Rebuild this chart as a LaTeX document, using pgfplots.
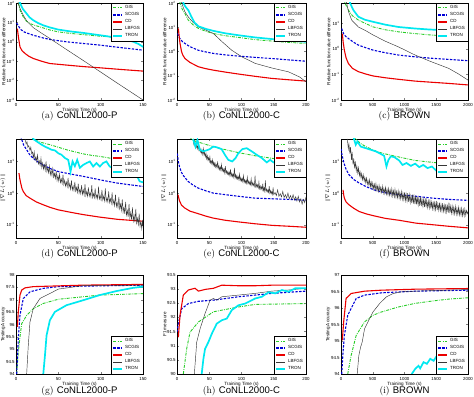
\documentclass[border=0pt]{standalone}
\usepackage{fontspec}
\usepackage{pgfplots}
\pgfplotsset{compat=1.18}
\newfontfamily\hv{Liberation Sans}
\definecolor{gisc}{RGB}{40,205,40}
\definecolor{scgc}{RGB}{0,0,215}
\definecolor{cdc}{RGB}{235,0,0}
\definecolor{lbc}{RGB}{55,55,55}
\definecolor{trc}{RGB}{0,232,240}
\newcommand{\tp}[1]{10\textsuperscript{#1}}
\pgfplotsset{
 base/.style={scale only axis, anchor=south west, clip=true,
   font=\hv\fontsize{4.6}{5.5}\selectfont,
   tick label style={font=\hv\fontsize{4.4}{5}\selectfont},
   yticklabel style={inner xsep=1.2pt},
   /pgf/number format/assume math mode=true,
   /pgf/number format/1000 sep={},
   scaled ticks=false, tick align=inside, major tick length=2bp,
   axis line style={line width=0.4pt},
   xlabel={Training Time (s)},
   xlabel style={yshift=5.5bp},
   ylabel style={at={(axis description cs:0,0.5)}, anchor=south, yshift=10.5bp, inner sep=0pt},
   legend cell align=left,
   legend style={font=\hv\fontsize{4.5}{5}\selectfont, at={(1,1)}, anchor=north east,
     inner xsep=1pt, inner ysep=0.5pt, row sep=-1.6pt, draw=black, line width=0.3pt},
   legend image code/.code={\draw[##1] (0bp,0bp) -- (9bp,0bp);},
 },
 lr1/.style={ylabel={Relative function value difference}},
 lr2/.style={ylabel={$\|\nabla L(w)\|$}, ymin=-1.42, ymax=1.71, ytick={-1,0,1},
   yticklabels={\tp{-1},\tp{0},\tp{1}}},
 gis/.style={color=gisc, line width=0.9pt, dash pattern=on 3pt off 1.2pt on 0.8pt off 1.2pt},
 scg/.style={color=scgc, line width=1.1pt, dash pattern=on 2.4pt off 1.4pt},
 cd/.style={color=cdc, line width=1.1pt},
 lbf/.style={color=lbc, line width=0.45pt},
 tron/.style={color=trc, line width=1.7pt},
}
\begin{document}
\begin{tikzpicture}
\useasboundingbox (0,0) rectangle (474bp,397bp);
% ---------------- (a)
\begin{axis}[base, lr1, at={(16bp,297bp)}, width=127bp, height=97bp,
  xmin=0, xmax=150, xtick={0,50,100,150}, ymin=-3, ymax=2, ytick={-3,-2,-1,0,1,2},
  yticklabels={\tp{-3},\tp{-2},\tp{-1},\tp{0},\tp{1},\tp{2}}]
\addplot[gis] coordinates {(1.5,2.3)(2.7,2.0)(5,1.6)(8.6,1.28)(12,1.08)(16.5,0.94)(22,0.85)(28.3,0.77)(38,0.63)(49.9,0.51)(65,0.43)(79.3,0.37)(99,0.29)(120,0.23)(150,0.17)};
\addplot[scg] coordinates {(0.8,0.97)(3,0.8)(6,0.62)(10,0.5)(15,0.42)(20.4,0.34)(30,0.22)(40,0.12)(59.7,0.0)(80,-0.09)(98.9,-0.17)(120,-0.28)(150,-0.43)};
\addplot[cd] coordinates {(1.6,0.68)(3,0.2)(4.7,-0.26)(7,-0.45)(10.6,-0.6)(15,-0.74)(20.4,-0.86)(30,-1.0)(40,-1.12)(59.7,-1.2)(80,-1.28)(99,-1.34)(125,-1.43)(150,-1.51)};
\addplot[lbf] coordinates {(1.5,2.3)(2.7,2.0)(5,1.7)(8.6,1.37)(13,1.05)(20.4,0.73)(30,0.45)(40,0.17)(59.7,-0.40)(80,-0.98)(99,-1.53)(120,-2.14)(150,-3.0)};
\addplot[tron] coordinates {(3.5,2.3)(4.7,2.0)(8,1.7)(12.6,1.45)(16,1.26)(20.4,1.11)(26,0.97)(32.2,0.85)(40,0.74)(49.9,0.63)(65,0.53)(79.3,0.46)(99,0.34)(110,0.27)(118.6,0.2)(130,0.1)(138.2,0.01)(145,-0.12)(150,-0.26)};
\legend{GIS,SCGIS,CD,LBFGS,TRON}
\end{axis}
% ---------------- (b)
\begin{axis}[base, lr1, at={(177bp,297bp)}, width=129bp, height=97bp,
  xmin=0, xmax=200, xtick={0,50,100,150,200}, ymin=-2, ymax=2, ytick={-2,-1,0,1,2},
  yticklabels={\tp{-2},\tp{-1},\tp{0},\tp{1},\tp{2}}]
\addplot[gis] coordinates {(3,2.3)(4.7,2.0)(8,1.75)(12.4,1.56)(17.6,1.29)(25,1.1)(33.2,0.95)(45,0.83)(56.5,0.74)(75,0.65)(95.3,0.58)(121.2,0.49)(160,0.4)(200,0.33)};
\addplot[scg] coordinates {(1,0.74)(4,0.55)(8,0.42)(12.4,0.33)(20,0.2)(33.2,0.05)(45,-0.02)(56.5,-0.08)(75,-0.14)(95.3,-0.19)(120,-0.24)(147,-0.29)(175,-0.35)(200,-0.4)};
\addplot[cd] coordinates {(2.1,0.95)(3.5,0.6)(4.7,0.33)(7,0.0)(9,-0.15)(12.4,-0.29)(20,-0.45)(33.2,-0.63)(45,-0.71)(56.5,-0.77)(75,-0.85)(95.3,-0.93)(120,-1.02)(147,-1.11)(175,-1.17)(200,-1.22)};
\addplot[lbf] coordinates {(5.5,2.3)(7.3,2.0)(12,1.65)(17.6,1.42)(25,1.2)(33.2,1.01)(45,0.88)(56.5,0.74)(70,0.4)(85,0.05)(100.5,-0.22)(121.2,-0.49)(147,-0.68)(173,-0.84)(190,-1.05)(200,-1.25)};
\addplot[tron] coordinates {(8,2.3)(9.8,2.0)(13,1.85)(17.6,1.7)(22,1.45)(27,1.2)(33.2,1.04)(45,0.93)(56.5,0.85)(75,0.75)(95.3,0.67)(121.2,0.58)(160,0.48)(200,0.4)};
\legend{GIS,SCGIS,CD,LBFGS,TRON}
\end{axis}
% ---------------- (c)
\begin{axis}[base, lr1, at={(341bp,297bp)}, width=127bp, height=97bp,
  xmin=0, xmax=2000, xtick={0,500,1000,1500,2000}, ymin=-2, ymax=1.8, ytick={-2,-1,0,1},
  yticklabels={\tp{-2},\tp{-1},\tp{0},\tp{1}}]
\addplot[gis] coordinates {(40,2.0)(63,1.8)(116,1.52)(180,1.3)(274,1.13)(400,0.98)(510,0.86)(700,0.75)(905,0.67)(1168,0.6)(1400,0.55)(1695,0.5)(2000,0.41)};
\addplot[scg] coordinates {(11,0.8)(40,0.6)(70,0.5)(116,0.41)(200,0.26)(274,0.15)(400,0.04)(510,-0.05)(700,-0.15)(905,-0.24)(1168,-0.31)(1400,-0.36)(1695,-0.41)(2000,-0.46)};
\addplot[cd] coordinates {(21,0.6)(35,0.25)(53,-0.05)(80,-0.35)(116,-0.57)(180,-0.76)(274,-0.89)(400,-0.99)(510,-1.06)(700,-1.13)(905,-1.19)(1168,-1.26)(1400,-1.3)(1695,-1.35)(2000,-1.41)};
\addplot[lbf] coordinates {(70,2.0)(89,1.8)(120,1.45)(168,1.13)(274,0.86)(400,0.7)(510,0.54)(700,0.3)(905,0.08)(1168,-0.24)(1400,-0.48)(1695,-0.76)(1850,-0.98)(2000,-1.22)};
\addplot[tron] coordinates {(130,2.0)(142,1.8)(195,1.52)(274,1.26)(380,1.14)(510,1.06)(700,0.95)(905,0.86)(1168,0.8)(1400,0.76)(1695,0.73)(2000,0.71)};
\legend{GIS,SCGIS,CD,LBFGS,TRON}
\end{axis}
% ---------------- (d)
\begin{axis}[base, lr2, at={(16bp,159bp)}, width=127bp, height=99bp,
  xmin=0, xmax=150, xtick={0,50,100,150}]
\addplot[gis] coordinates {(18,1.8)(20.4,1.7)(30,1.6)(40,1.53)(50,1.45)(59.7,1.37)(70,1.3)(79.3,1.24)(90,1.19)(99,1.16)(118.6,1.07)(135,1.03)(150,1.0)};
\addplot[scg] coordinates {(5.5,1.8)(6.7,1.7)(9,1.52)(12.6,1.37)(16,1.22)(20.4,1.1)(26,0.98)(32.2,0.89)(40,0.78)(49.9,0.68)(65,0.6)(79.3,0.53)(99,0.42)(118.6,0.32)(135,0.26)(150,0.21)};
\addplot[cd] coordinates {(3.5,0.63)(4.5,0.45)(5.5,0.32)(7,0.15)(8.6,0.05)(12,-0.08)(16.5,-0.16)(24,-0.28)(32.2,-0.37)(40,-0.45)(49.9,-0.53)(65,-0.61)(79.3,-0.68)(99,-0.76)(120,-0.83)(150,-0.89)};
\addplot[lbf] coordinates {(10.6,1.71)(12,1.55)(13,1.62)(14,1.45)(15,1.50)(16.5,1.35)(17.5,1.45)(18.5,1.25)(19.5,1.30)(20.5,1.12)(21.5,1.30)(22.5,1.05)(23.5,1.15)(24.5,1.00)(25.5,1.20)(26.5,0.92)(27.5,1.02)(28.5,0.88)(29.5,1.10)(30.5,0.80)(31.5,0.95)(32.5,0.76)(33.5,0.90)(34.5,0.72)(35.5,1.00)(36.5,0.68)(37.5,0.80)(38.5,0.64)(39.5,0.85)(40.5,0.58)(41.5,0.72)(42.5,0.55)(43.5,0.78)(44.5,0.50)(45.5,0.62)(46.5,0.46)(47.5,0.70)(48.5,0.40)(49.5,0.55)(50.5,0.38)(51.5,0.60)(52.5,0.33)(53.5,0.45)(54.5,0.30)(55.5,0.58)(56.5,0.27)(57.5,0.40)(58.5,0.22)(59.5,0.35)(60.5,0.20)(61.5,0.48)(62.5,0.18)(63.5,0.30)(64.5,0.12)(65.5,0.40)(66.5,0.10)(67.5,0.22)(68.5,0.08)(69.5,0.35)(70.5,0.06)(71.5,0.18)(72.5,0.02)(73.5,0.30)(74.5,0.00)(75.5,0.12)(76.5,-0.02)(77.5,0.25)(78.5,-0.04)(79.5,0.10)(80.5,-0.06)(81.5,0.28)(82.5,-0.08)(83.5,0.05)(84.5,-0.10)(85.5,0.18)(86.5,-0.10)(87.5,0.02)(88.5,-0.12)(89.5,0.25)(90.5,-0.14)(91.5,-0.02)(92.5,-0.15)(93.5,0.15)(94.5,-0.16)(95.5,-0.05)(96.5,-0.18)(97.5,0.20)(98.5,-0.18)(99.5,-0.08)(100.5,-0.22)(101.5,0.10)(102.5,-0.22)(103.5,-0.10)(104.5,-0.25)(105.5,0.15)(106.5,-0.26)(107.5,-0.15)(108.5,-0.28)(109.5,0.05)(110.5,-0.30)(111.5,-0.18)(112.5,-0.33)(113.5,0.02)(114.5,-0.35)(115.5,-0.22)(116.5,-0.40)(117.5,-0.05)(118.5,-0.42)(119.5,-0.30)(120.5,-0.46)(121.5,-0.12)(122.5,-0.50)(123.5,-0.35)(124.5,-0.55)(125.5,-0.20)(126.5,-0.60)(127.5,-0.45)(128.5,-0.66)(129.5,-0.28)(130.5,-0.70)(131.5,-0.55)(132.5,-0.75)(133.5,-0.35)(134.5,-0.78)(135.5,-0.62)(136.5,-0.84)(137.5,-0.45)(138.5,-0.88)(139.5,-0.70)(140.5,-0.92)(141.5,-0.50)(142.5,-0.95)(143.5,-0.80)(144.5,-1.00)(145.5,-0.65)(146.5,-1.05)(147.5,-0.90)(148.5,-1.12)(149.5,-0.85)(150,-1.05)};
\addplot[tron] coordinates {(19,1.85)(20.4,1.71)(26.3,1.6)(30.2,1.53)(34.2,1.47)(38.1,1.42)(42.0,1.37)(45.9,1.35)(49.9,1.26)(53.8,1.21)(57.7,1.11)(61.7,1.05)(64.4,0.68)(66.8,1.0)(69.5,0.85)(72.3,1.05)(75.4,0.8)(79.3,0.89)(83.3,0.95)(87.2,1.0)(91.1,0.84)(95.0,0.95)(99.0,0.84)(102.9,0.95)(106.8,1.0)(110.7,0.84)(114.7,0.79)(118.6,0.89)(122.5,0.84)(126.4,0.76)(130.4,0.82)(134.3,0.74)(138.2,0.68)(142.2,0.58)(146.1,0.37)(150,0.34)};
\legend{GIS,SCGIS,CD,LBFGS,TRON}
\end{axis}
% ---------------- (e)
\begin{axis}[base, lr2, at={(177bp,159bp)}, width=129bp, height=99bp,
  xmin=0, xmax=200, xtick={0,50,100,150,200}]
\addplot[gis] coordinates {(20,1.8)(22.3,1.7)(30,1.63)(43,1.55)(56,1.47)(69,1.4)(82,1.34)(95,1.28)(108,1.23)(121,1.18)(147,1.1)(175,1.04)(200,0.98)};
\addplot[scg] coordinates {(0.5,1.25)(2,1.0)(4,0.82)(6.8,0.66)(10,0.55)(17.1,0.37)(25,0.25)(32.7,0.16)(45,0.07)(56.1,0.0)(75,-0.05)(95,-0.1)(121,-0.16)(147,-0.18)(175,-0.2)(200,-0.23)};
\addplot[cd] coordinates {(1.6,-0.05)(3,-0.18)(4.2,-0.26)(7,-0.38)(11.9,-0.47)(20,-0.57)(32.7,-0.65)(45,-0.73)(56.1,-0.79)(75,-0.86)(95,-0.91)(121,-0.97)(147,-1.02)(175,-1.05)(200,-1.08)};
\addplot[lbf] coordinates {(24.9,1.71)(26,1.55)(27,1.65)(28,1.50)(29,1.58)(30,1.45)(31,1.55)(32,1.40)(33,1.50)(34,1.35)(35,1.42)(36,1.30)(37,1.40)(38,1.26)(39,1.35)(40,1.22)(41,1.40)(42,1.20)(43,1.28)(44,1.15)(45,1.25)(46,1.08)(47,1.18)(48,1.04)(49,1.12)(50,1.00)(51,1.15)(52,0.95)(53,1.02)(54,0.92)(55,1.05)(56,0.88)(57,0.98)(58,0.85)(59,0.95)(60,0.82)(61,0.90)(62,0.80)(63,1.00)(64,0.78)(65,0.86)(66,0.74)(67,0.82)(68,0.72)(69,0.90)(70,0.70)(71,0.78)(72,0.68)(73,0.76)(74,0.64)(75,0.85)(76,0.62)(77,0.70)(78,0.60)(79,0.68)(80,0.58)(81,0.66)(82,0.55)(83,0.75)(84,0.54)(85,0.62)(86,0.52)(87,0.60)(88,0.50)(89,0.80)(90,0.48)(91,0.58)(92,0.46)(93,0.55)(94,0.44)(95,0.52)(96,0.42)(97,0.60)(98,0.40)(99,0.48)(100,0.38)(101,0.46)(102,0.36)(103,0.55)(104,0.34)(105,0.42)(106,0.32)(107,0.40)(108,0.31)(109,0.50)(110,0.30)(111,0.38)(112,0.28)(113,0.35)(114,0.26)(115,0.45)(116,0.25)(117,0.33)(118,0.23)(119,0.30)(120,0.22)(121,0.55)(122,0.20)(123,0.28)(124,0.18)(125,0.26)(126,0.16)(127,0.35)(128,0.14)(129,0.22)(130,0.12)(131,0.20)(132,0.10)(133,0.30)(134,0.08)(135,0.16)(136,0.06)(137,0.40)(138,0.05)(139,0.12)(140,0.04)(141,0.10)(142,0.02)(143,0.22)(144,0.00)(145,0.08)(146,-0.02)(147,0.05)(148,-0.04)(149,0.18)(150,-0.05)(152,0.02)(154,-0.08)(156,0.10)(158,-0.10)(160,-0.02)(162,-0.12)(164,0.05)(166,-0.14)(168,-0.05)(170,-0.16)(172,0.00)(174,-0.18)(176,-0.08)(178,-0.20)(180,-0.05)(182,-0.22)(184,-0.12)(186,-0.25)(188,-0.10)(190,-0.28)(192,-0.18)(194,-0.35)(196,-0.20)(198,-0.30)(200,-0.12)};
\addplot[tron] coordinates {(24.9,1.71)(28.6,1.47)(31.7,1.68)(35.3,1.37)(40.5,1.32)(45.7,1.35)(50.9,1.39)(56.1,1.47)(61.3,1.45)(69.1,1.39)(74.3,1.21)(79.5,1.05)(85.7,1.0)(90.9,1.11)(95.1,1.26)(101.3,1.39)(108.1,1.42)(115.8,1.32)(123.6,1.21)(131.4,1.11)(139.2,0.97)(144.4,1.05)(149.6,0.97)(157.4,1.03)(170,1.0)};
\legend{GIS,SCGIS,CD,LBFGS,TRON}
\end{axis}
% ---------------- (f)
\begin{axis}[base, lr2, at={(341bp,159bp)}, width=127bp, height=99bp,
  xmin=0, xmax=2000, xtick={0,500,1000,1500,2000}]
\addplot[gis] coordinates {(200,1.8)(232,1.71)(300,1.58)(389,1.47)(520,1.35)(653,1.26)(800,1.19)(916,1.14)(1050,1.08)(1179,1.03)(1442,0.97)(1700,0.93)(2000,0.89)};
\addplot[scg] coordinates {(5,1.4)(11,1.26)(30,1.08)(47,0.95)(80,0.75)(126,0.58)(200,0.43)(284,0.32)(400,0.2)(521,0.1)(700,0.01)(916,-0.05)(1179,-0.1)(1442,-0.16)(1700,-0.2)(2000,-0.23)};
\addplot[cd] coordinates {(32,0.1)(40,-0.03)(53,-0.16)(80,-0.28)(126,-0.37)(200,-0.48)(284,-0.58)(400,-0.66)(521,-0.72)(700,-0.8)(916,-0.86)(1179,-0.95)(1442,-1.0)(1700,-1.05)(2000,-1.1)};
\addplot[lbf] coordinates {(100,1.71)(115,1.40)(125,1.55)(140,1.25)(150,1.45)(165,1.05)(175,1.30)(190,0.90)(200,1.10)(215,0.78)(225,1.00)(240,0.70)(250,0.85)(265,0.62)(275,0.80)(290,0.55)(300,0.68)(315,0.48)(325,0.62)(340,0.42)(350,0.58)(365,0.38)(375,0.50)(390,0.32)(400,0.48)(415,0.28)(425,0.40)(440,0.24)(450,0.42)(465,0.20)(475,0.35)(490,0.16)(500,0.32)(515,0.13)(525,0.28)(540,0.10)(550,0.30)(565,0.08)(575,0.22)(590,0.05)(600,0.25)(615,0.04)(625,0.18)(640,0.02)(650,0.22)(665,0.00)(675,0.15)(690,-0.02)(700,0.18)(715,-0.04)(725,0.12)(740,-0.06)(750,0.15)(765,-0.07)(775,0.10)(790,-0.08)(800,0.14)(815,-0.10)(825,0.08)(840,-0.12)(850,0.12)(865,-0.13)(875,0.05)(890,-0.15)(900,0.08)(915,-0.16)(925,0.02)(940,-0.18)(950,0.05)(965,-0.20)(975,0.00)(990,-0.22)(1000,0.02)(1015,-0.24)(1025,-0.02)(1040,-0.26)(1050,0.00)(1065,-0.28)(1075,-0.05)(1090,-0.30)(1100,-0.08)(1115,-0.32)(1125,-0.05)(1140,-0.33)(1150,-0.10)(1165,-0.35)(1175,-0.08)(1190,-0.36)(1200,-0.12)(1215,-0.38)(1225,-0.15)(1240,-0.40)(1250,-0.12)(1265,-0.41)(1275,-0.18)(1290,-0.42)(1300,-0.20)(1315,-0.44)(1325,-0.16)(1340,-0.45)(1350,-0.22)(1365,-0.46)(1375,-0.25)(1390,-0.48)(1400,-0.20)(1415,-0.49)(1425,-0.28)(1440,-0.50)(1450,-0.26)(1465,-0.52)(1475,-0.30)(1490,-0.53)(1500,-0.25)(1515,-0.54)(1525,-0.33)(1540,-0.55)(1550,-0.30)(1565,-0.56)(1575,-0.36)(1590,-0.57)(1600,-0.32)(1615,-0.58)(1625,-0.38)(1640,-0.60)(1650,-0.35)(1665,-0.60)(1675,-0.40)(1690,-0.62)(1700,-0.30)(1715,-0.63)(1725,-0.42)(1740,-0.64)(1750,-0.40)(1765,-0.65)(1775,-0.45)(1790,-0.66)(1800,-0.42)(1815,-0.67)(1825,-0.48)(1840,-0.68)(1850,-0.45)(1865,-0.69)(1875,-0.50)(1890,-0.70)(1900,-0.48)(1915,-0.72)(1925,-0.52)(1940,-0.72)(1950,-0.50)(1965,-0.70)(1975,-0.55)(1990,-0.65)(2000,-0.58)};
\addplot[tron] coordinates {(190,1.85)(205,1.71)(232,1.53)(258,1.63)(311,1.47)(389,1.42)(468,1.37)(547,1.32)(626,1.24)(679,1.18)(716,0.84)(747,1.05)(784,1.16)(837,1.14)(916,1.03)(968,0.89)(1032,0.95)(1100,0.86)(1168,0.93)(1232,0.82)(1295,0.89)(1363,0.79)(1432,0.84)(1495,0.72)(1558,0.79)(1626,0.65)(1695,0.72)(1758,0.61)(1821,0.68)(1889,0.58)(1947,0.65)(2000,0.58)};
\legend{GIS,SCGIS,CD,LBFGS,TRON}
\end{axis}
% ---------------- (g)
\begin{axis}[base, at={(16bp,23bp)}, width=127bp, height=99bp,
  ylabel={Testing Accuracy}, legend style={at={(1,0)}, anchor=south east},
  xmin=0, xmax=150, xtick={0,50,100,150}, ymin=94, ymax=98, ytick={94,94.5,...,98}]
\addplot[gis] coordinates {(0.8,94.0)(2.7,94.88)(4.7,95.49)(6.7,96.03)(12.6,96.37)(20.4,96.64)(32.2,96.85)(49.9,97.02)(79.3,97.12)(99,97.19)(118.6,97.21)(150,97.25)};
\addplot[scg] coordinates {(0.8,94.0)(2.7,95.42)(4.7,96.37)(8.6,97.05)(16.5,97.32)(32.2,97.46)(49.9,97.53)(79.3,97.55)(150,97.59)};
\addplot[cd] coordinates {(1.6,95.9)(2.7,96.51)(4.7,97.19)(6.7,97.39)(10.6,97.48)(20.4,97.53)(40,97.55)(79.3,97.59)(150,97.62)};
\addplot[lbf] coordinates {(12.6,94.0)(14.5,95.15)(16.5,96.1)(20.4,96.64)(28.3,97.05)(40,97.25)(49.9,97.43)(79.3,97.57)(99,97.57)(150,97.59)};
\addplot[tron] coordinates {(32.2,94.0)(34.2,94.75)(36.1,95.56)(40,96.17)(45.9,96.51)(59.7,96.78)(79.3,96.98)(99,97.19)(118.6,97.35)(138.2,97.48)(150,97.53)};
\legend{GIS,SCGIS,CD,LBFGS,TRON}
\end{axis}
% ---------------- (h)
\begin{axis}[base, at={(177bp,23bp)}, width=129bp, height=99bp,
  ylabel={F1 measure}, legend style={at={(1,0)}, anchor=south east},
  xmin=0, xmax=200, xtick={0,50,100,150,200}, ymin=90, ymax=93.5, ytick={90,90.5,...,93.5}]
\addplot[gis] coordinates {(9.8,90.0)(15,90.89)(20.2,91.48)(33.2,91.84)(56.5,92.2)(95.3,92.37)(121.2,92.46)(200,92.49)};
\addplot[scg] coordinates {(0,91.48)(2.1,91.78)(7.3,92.31)(17.6,92.49)(33.2,92.57)(56.5,92.61)(69.4,92.65)(95.3,92.73)(121.2,92.79)(147,92.85)(200,92.93)};
\addplot[cd] coordinates {(2.1,91.3)(4.7,92.08)(9.8,92.79)(17.6,92.97)(27.9,93.03)(33.2,92.93)(43.5,92.99)(56.5,93.03)(69.4,93.14)(95.3,93.12)(121.2,93.12)(147,93.14)(200,93.14)};
\addplot[lbf] coordinates {(26.9,90.0)(30.6,91.13)(35.8,91.6)(43.5,92.14)(51.3,92.61)(56.5,92.67)(61.6,92.61)(69.4,92.73)(95.3,92.79)(121.2,92.85)(147,92.93)(173,92.97)(200,93.03)};
\addplot[tron] coordinates {(38.3,90.0)(40.9,90.53)(43.5,90.89)(48.7,91.13)(53.9,91.42)(61.6,91.78)(69.4,91.9)(77.2,91.96)(85,92.26)(95.3,92.43)(105.7,92.49)(116,92.61)(121.2,92.67)(131.5,92.73)(141.9,92.89)(152.3,92.85)(162.7,92.97)(173,92.91)(183.4,93.03)(200,93.03)};
\legend{GIS,SCGIS,CD,LBFGS,TRON}
\end{axis}
% ---------------- (i)
\begin{axis}[base, at={(341bp,23bp)}, width=127bp, height=99bp,
  ylabel={Testing Accuracy}, legend style={at={(1,0)}, anchor=south east},
  xmin=0, xmax=2000, xtick={0,500,1000,1500,2000}, ymin=94, ymax=97, ytick={94,94.5,...,97}]
\addplot[gis] coordinates {(106,94.0)(159,94.56)(239,95.17)(371,95.58)(504,95.78)(637,95.88)(902,96.03)(1167,96.14)(1432,96.21)(1698,96.27)(2000,96.31)};
\addplot[scg] coordinates {(11,94.0)(32,94.66)(53,95.17)(106,95.78)(239,96.29)(371,96.39)(637,96.46)(1167,96.51)(2000,96.54)};
\addplot[cd] coordinates {(21,95.02)(42,95.58)(80,96.29)(159,96.44)(371,96.51)(637,96.54)(1167,96.57)(2000,96.59)};
\addplot[lbf] coordinates {(255,94.0)(281,94.56)(308,94.81)(334,94.97)(371,95.37)(451,95.68)(504,95.88)(610,96.14)(716,96.34)(822,96.44)(955,96.49)(1167,96.51)(2000,96.56)};
\addplot[tron] coordinates {(1114,94.0)(1167,94.15)(1220,94.25)(1247,94.17)(1300,94.36)(1353,94.31)(1406,94.46)(1459,94.4)(1512,94.56)(1565,94.51)(1618,94.66)(1671,94.61)(1724,94.74)(1777,94.71)(1830,94.86)(1883,94.81)(1936,94.97)(2000,95.07)};
\legend{GIS,SCGIS,CD,LBFGS,TRON}
\end{axis}
% captions
\begin{scope}[every node/.style={font=\fontsize{9.6}{11}\selectfont, inner sep=0pt}]
\node at (79.5bp,281bp) {(a)\ {\hv CoNLL2000-P}};
\node at (241.5bp,281bp) {(b)\ {\hv CoNLL2000-C}};
\node at (404.5bp,281bp) {(c)\ {\hv BROWN}};
\node at (79.5bp,143bp) {(d)\ {\hv CoNLL2000-P}};
\node at (241.5bp,143bp) {(e)\ {\hv CoNLL2000-C}};
\node at (404.5bp,143bp) {(f)\ {\hv BROWN}};
\node at (79.5bp,6bp) {(g)\ {\hv CoNLL2000-P}};
\node at (241.5bp,6bp) {(h)\ {\hv CoNLL2000-C}};
\node at (404.5bp,6bp) {(i)\ {\hv BROWN}};
\end{scope}
\end{tikzpicture}
\end{document}
